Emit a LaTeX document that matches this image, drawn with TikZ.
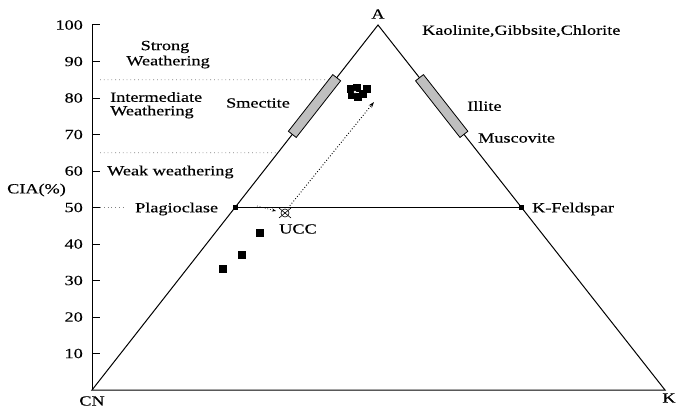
\documentclass[tikz,border=0pt]{standalone}
\usepackage{fontspec}
\setmainfont{Liberation Serif}[FakeStretch=1.3,FakeBold=0.4]
\usetikzlibrary{calc,arrows.meta}
\tikzset{
  lbl/.style={font=\fontsize{14}{15}\selectfont, inner sep=0pt},
  edge/.style={line width=1pt},
  zone/.style={gray, dash pattern=on 0.8pt off 3pt, line width=0.8pt},
  mineralbox/.style={draw, line width=0.8pt, fill=gray!50, minimum width=72pt, minimum height=10pt, inner sep=0pt},
  sample/.style={fill=black, minimum size=7.5pt, inner sep=0pt},
  endpt/.style={fill=black, minimum size=5pt, inner sep=0pt},
}
\begin{document}
\begin{tikzpicture}[x=1pt,y=-1pt]
\useasboundingbox (0,0) rectangle (676,409);
\coordinate (CN) at (92,390);
\coordinate (A) at (378,25);
\coordinate (K) at (665,390);
\coordinate (axtop) at (92,25);
% triangle and axis
\draw[edge] (CN) -- (A) -- (K) -- cycle;
\draw[edge] (CN) -- (axtop);
\foreach \v in {10,20,...,100}{
  \draw[edge] (92,{390-3.65*\v}) -- (100,{390-3.65*\v});
  \node[lbl, anchor=east] at (83,{390-3.65*\v}) {\v};
}
% zone lines
\draw[zone] (100,{390-3.65*85}) -- ($(CN)!0.85!(A)$);
\draw[zone] (100,{390-3.65*65}) -- ($(CN)!0.65!(A)$);
\draw[zone] (100,{390-3.65*50}) -- (126,{390-3.65*50});
% 50% line
\node[endpt] (plag) at ($(CN)!0.5!(A)$) {};
\node[endpt] (kfs) at ($(K)!0.5!(A)$) {};
\draw[line width=0.7pt] (plag) -- (kfs);
% mineral boxes
\node[mineralbox, rotate=51.9] (smbox) at ($(CN)!0.778!(A)$) {};
\node[mineralbox, rotate=-51.9] (ilbox) at ($(K)!0.778!(A)$) {};
% labels
\node[lbl] (lA) at (378,14) {A};
\node[lbl] (lCN) at (92,401) {CN};
\node[lbl] (lK) at (669,398) {K};
\node[lbl, anchor=west] (kao) at (422,31) {Kaolinite,Gibbsite,Chlorite};
\node[lbl, anchor=west] (ill) at (467,106) {Illite};
\node[lbl, anchor=west] (mus) at (478,138) {Muscovite};
\node[lbl] (sme) at (258,103) {Smectite};
\node[lbl] (strong1) at (165,47) {Strong};
\node[lbl] (strong2) at (168,62) {Weathering};
\node[lbl, anchor=west] (inter1) at (110,97) {Intermediate};
\node[lbl, anchor=west] (inter2) at (110,112) {Weathering};
\node[lbl, anchor=west] (weak) at (107,172) {Weak weathering};
\node[lbl, anchor=west] (cia) at (7,190) {CIA(\%)};
\node[lbl, anchor=west] (plagl) at (135,209) {Plagioclase};
\node[lbl, anchor=west] (kfsl) at (532,209) {K-Feldspar};
% samples
\node[sample] (s1) at (223,269) {};
\node[sample] (s2) at (242,255) {};
\node[sample] (s3) at (260,233) {};
\node[sample] (c1) at (351,89) {};
\node[sample] (c2) at (357,88) {};
\node[sample] (c3) at (367,89) {};
\node[sample] (c4) at (352,95) {};
\node[sample] (c5) at (358,97) {};
\node[sample] (c6) at (363,94) {};
\fill[white] (355,92) circle (1.3);
% UCC
\coordinate (ucc) at (285,213);
\draw[line width=0.6pt] ($(ucc)+(-6,-5)$) -- ($(ucc)+(6,5)$) ($(ucc)+(-6,5)$) -- ($(ucc)+(6,-5)$);
\draw[line width=0.6pt] (ucc) circle (4);
\node[lbl] (uccl) at (298,229) {UCC};
\coordinate (tip) at (374,102);
\draw[dotted, line width=0.9pt, -{Stealth[length=6pt,width=4pt]}] ($(ucc)+(3,-5)$) -- (tip);
\coordinate (tail) at (257,206);
\draw[dotted, line width=0.7pt, -{Stealth[length=4pt,width=3pt]}] (tail) -- ($(ucc)+(-9,-2)$);
\end{tikzpicture}
\end{document}
